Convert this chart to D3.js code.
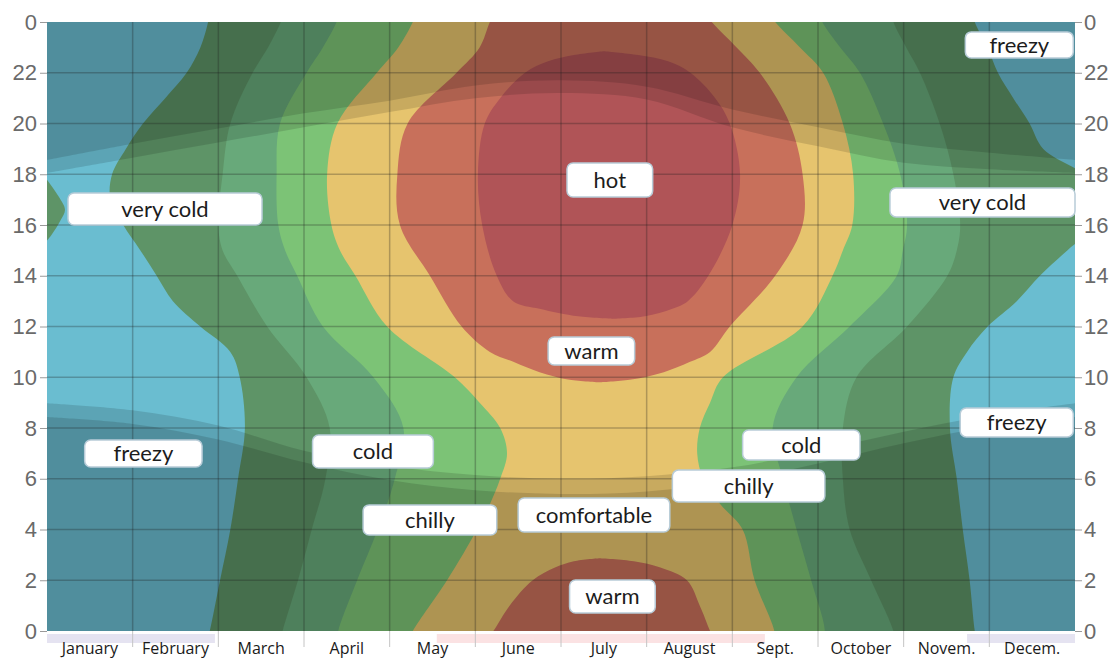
<!DOCTYPE html>
<html><head><meta charset="utf-8">
<script src="https://cdn.jsdelivr.net/npm/d3@7"></script>
<style>
html,body{margin:0;padding:0;background:#fff;}
svg{display:block;}
</style></head><body>
<svg id="chart" width="1113" height="660"></svg>
<script>
// ---------- data ----------
const months = ["January","February","March","April","May","June","July","August","Sept.","October","Novem.","Decem."];
const hourTicks = [0,2,4,6,8,10,12,14,16,18,20,22,24];
const categories = ["freezy","very cold","cold","chilly","comfortable","warm","hot"];

// band boundaries: [hour, left month-position, right month-position]
const veryColdBand = [[-0.5,1.86,10.86],[0,1.90,10.83],[2,2.02,10.77],[4,2.14,10.69],[6,2.23,10.62],[8,2.31,10.54],[10,2.25,10.58],[11,2.14,10.74],[12,1.79,10.98],[13,1.47,11.32],[14,1.28,11.59],[15,1.09,11.91],[16,0.89,12.25],[17,0.74,12.35],[18,0.76,12.1],[19,0.92,11.63],[20,1.12,11.47],[21,1.38,11.28],[22,1.63,11.10],[23,1.79,10.98],[24,1.88,10.83],[24.5,1.90,10.80]];
const veryColdTongue = [[15.2,-0.5,-0.05],[15.6,-0.5,0.05],[16.2,-0.5,0.16],[16.6,-0.5,0.21],[17.1,-0.5,0.14],[17.6,-0.5,0.04],[18.0,-0.5,-0.05]];
const coldBand = [[-0.5,2.72,9.9],[0,2.75,9.88],[2,2.93,9.62],[4,3.09,9.37],[6,3.25,9.29],[8,3.30,9.29],[10,3.03,9.45],[12,2.57,10.04],[14,2.22,10.51],[15,2.05,10.62],[16,2.00,10.66],[18,2.05,10.58],[20,2.14,10.42],[22,2.40,10.19],[23,2.58,10.03],[24,2.73,9.88],[24.5,2.78,9.85]];
const chillyBand = [[-0.5,3.38,9.05],[0,3.40,9.08],[2,3.62,8.92],[4,3.86,8.75],[6,4.06,8.59],[8,4.16,8.47],[10,3.81,8.75],[12,3.22,9.37],[14,2.92,9.92],[15,2.78,9.99],[16,2.70,10.04],[18,2.68,9.96],[20,2.72,9.76],[22,3.03,9.49],[23,3.22,9.26],[24,3.38,9.05],[24.5,3.42,9.0]];
const comfortableBand = [[-0.5,4.2,8.5],[0,4.27,8.49],[2,4.67,8.26],[4,5.02,8.12],[5,5.17,7.86],[6,5.29,7.66],[7,5.37,7.59],[8,5.29,7.62],[9,5.05,7.74],[10,4.76,7.89],[12,3.97,8.82],[14,3.60,9.17],[15,3.42,9.29],[16,3.32,9.40],[18,3.27,9.41],[20,3.39,9.29],[22,3.85,9.06],[23,4.10,8.79],[24,4.27,8.5],[24.5,4.32,8.4]];
const warmUpper = [[9.8,6.45,6.45],[9.9,6.1,6.8],[10.2,5.75,7.2],[10.6,5.45,7.5],[11,5.17,7.74],[12,4.84,7.97],[14,4.47,8.5],[16,4.12,8.82],[18,4.09,8.82],[20,4.21,8.67],[22,4.78,8.32],[23,5.05,8.05],[24,5.17,7.76],[24.5,5.25,7.65]];
const warmLower = [[-0.5,5.1,7.8],[0,5.21,7.74],[1,5.40,7.62],[2,5.67,7.47],[2.5,5.93,7.16],[2.75,6.15,6.85],[2.87,6.45,6.45]];
const hotBlob = [[12.3,6.6,6.6],[12.4,6.2,6.98],[12.7,5.75,7.3],[13,5.44,7.48],[14,5.25,7.72],[16,5.08,8.0],[18,5.03,8.09],[20,5.11,7.97],[21,5.29,7.80],[22,5.58,7.51],[22.45,5.85,7.25],[22.7,6.15,6.9],[22.85,6.5,6.5]];

// daylight boundaries sampled at month marks 0..12 (hours)
const monthMarks = [0,1,2,3,4,5,6,7,8,9,10,11,12];
const dawnNight    = [8.43,8.16,7.55,6.65,5.95,5.55,5.40,5.50,5.90,6.60,7.40,8.05,8.43];
const dawnTwilight = [8.98,8.70,8.10,7.10,6.50,6.15,6.00,6.10,6.45,7.10,7.85,8.50,8.98];
const duskTwilight = [18.05,18.65,19.25,19.85,20.45,21.0,21.2,20.95,19.85,19.1,18.45,18.2,18.05];
const duskNight    = [18.56,19.2,19.8,20.4,20.9,21.5,21.7,21.45,20.55,19.85,19.2,18.85,18.56];

// annotation labels: text and box extent in data units [m0,m1,h0,h1]
const labelTexts = ["freezy","very cold","very cold","hot","warm","freezy","cold","freezy","cold","chilly","chilly","comfortable","warm"];
const labelBoxes = [[10.72,11.98,22.58,23.61],[0.245,2.51,16.0,17.26],[9.84,12.0,16.32,17.46],[6.07,7.07,17.10,18.44],[5.85,6.86,10.48,11.59],[0.44,1.81,6.46,7.53],[3.10,4.51,6.42,7.72],[10.66,11.98,7.65,8.79],[8.12,9.49,6.74,7.92],[7.30,9.08,5.08,6.34],[3.69,5.25,3.78,4.97],[5.50,7.27,3.90,5.24],[6.10,7.10,0.71,2.01]];

// season strip under the axis: [from month, to month, kind]
const seasonStrip = [[0,1.96,"winter"],[4.55,8.38,"summer"],[10.74,12,"winter"]];

// ---------- styles ----------
const colors = {
  "freezy":"#6abdd0","very cold":"#5e9467","cold":"#68a97a","chilly":"#7cc376",
  "comfortable":"#e6c46e","warm":"#c8705b","hot":"#b05457"
};
const seasonColors = {winter:"#e5e3f1", summer:"#fbe2e3"};

// ---------- scales ----------
const x = d3.scaleLinear().domain([0,12]).range([47,1075]);
const y = d3.scaleLinear().domain([0,24]).range([631,22]);
const xBand = d3.scaleBand().domain(months).range([47,1075]);

const svg = d3.select("#chart");
svg.append("defs").append("clipPath").attr("id","plotClip").append("rect")
  .attr("x",x(0)).attr("y",y(24)).attr("width",x(12)-x(0)).attr("height",y(0)-y(24));

const plot = svg.append("g").attr("clip-path","url(#plotClip)");
plot.append("rect").attr("x",x(0)).attr("y",y(24)).attr("width",x(12)-x(0)).attr("height",y(0)-y(24))
  .attr("fill",colors["freezy"]);

const bandArea = d3.area()
  .y(d=>y(d[0])).x0(d=>x(d[1])).x1(d=>x(d[2]))
  .curve(d3.curveCatmullRom.alpha(0.5));

const layers = [
  [veryColdBand,"very cold"],[veryColdTongue,"very cold"],[coldBand,"cold"],[chillyBand,"chilly"],
  [comfortableBand,"comfortable"],[warmUpper,"warm"],[warmLower,"warm"],[hotBlob,"hot"]
];
plot.selectAll("path.band").data(layers).join("path").attr("class","band")
  .attr("d",d=>bandArea(d[0])).attr("fill",d=>colors[d[1]]);

// night / twilight overlays
const morning = vals => d3.area().x((d,i)=>x(monthMarks[i])).y0(y(0)).y1((d,i)=>y(vals[i])).curve(d3.curveCatmullRom.alpha(0.5))(vals);
const evening = vals => d3.area().x((d,i)=>x(monthMarks[i])).y0(y(24)).y1((d,i)=>y(vals[i])).curve(d3.curveCatmullRom.alpha(0.5))(vals);
const ov = plot.append("g").attr("fill","#000").attr("fill-opacity",0.13);
ov.append("path").attr("d",morning(dawnNight));
ov.append("path").attr("d",morning(dawnTwilight));
ov.append("path").attr("d",evening(duskNight));
ov.append("path").attr("d",evening(duskTwilight));

// grid
const grid = plot.append("g").attr("stroke","#1e1e1e").attr("stroke-opacity",0.28).attr("stroke-width",1.5);
grid.selectAll("line.v").data(d3.range(1,12)).join("line").attr("class","v")
  .attr("x1",d=>x(d)).attr("x2",d=>x(d)).attr("y1",y(24)).attr("y2",y(0));
grid.selectAll("line.h").data(hourTicks.slice(1,-1)).join("line").attr("class","h")
  .attr("y1",d=>y(d)).attr("y2",d=>y(d)).attr("x1",x(0)).attr("x2",x(12));

// season strip & month separators below plot
svg.append("g").selectAll("rect").data(seasonStrip).join("rect")
  .attr("x",d=>x(d[0])).attr("width",d=>x(d[1])-x(d[0])).attr("y",634).attr("height",9)
  .attr("fill",d=>seasonColors[d[2]]);
svg.append("g").attr("stroke","#c4c4c4").attr("stroke-width",1)
  .selectAll("line").data(d3.range(1,12)).join("line")
  .attr("x1",d=>x(d)).attr("x2",d=>x(d)).attr("y1",631).attr("y2",647);

// axes
const fmt = d=>String(d%24);
const yl = svg.append("g").attr("transform",`translate(${x(0)},0)`)
  .call(d3.axisLeft(y).tickValues(hourTicks).tickFormat(fmt).tickSize(7).tickPadding(3));
const yr = svg.append("g").attr("transform",`translate(${x(12)},0)`)
  .call(d3.axisRight(y).tickValues(hourTicks).tickFormat(fmt).tickSize(7).tickPadding(2));
[yl,yr].forEach(g=>{
  g.select(".domain").remove();
  g.selectAll(".tick line").attr("stroke","#9a9a9a");
  g.selectAll(".tick text").attr("fill","#6a6a6a").style("font-family","'Liberation Sans', Arial, sans-serif").style("font-size","22px");
});
const xa = svg.append("g").attr("transform",`translate(0,${y(0)})`)
  .call(d3.axisBottom(xBand).tickSize(0).tickPadding(12));
xa.select(".domain").remove();
xa.selectAll(".tick text").attr("fill","#1a1a1a").style("font-family","'Open Sans', sans-serif").style("font-size","16px");

// annotation boxes
const ann = svg.append("g");
const items = labelTexts.map((t,i)=>({t, b:labelBoxes[i]}));
const g = ann.selectAll("g").data(items).join("g");
g.append("rect")
  .attr("x",d=>x(d.b[0])).attr("y",d=>y(d.b[3]))
  .attr("width",d=>x(d.b[1])-x(d.b[0])).attr("height",d=>y(d.b[2])-y(d.b[3]))
  .attr("rx",6).attr("fill","#fff").attr("stroke","#b8ccd8").attr("stroke-width",1.5);
g.append("text")
  .attr("x",d=>(x(d.b[0])+x(d.b[1]))/2).attr("y",d=>(y(d.b[2])+y(d.b[3]))/2)
  .attr("dy","0.35em").attr("text-anchor","middle")
  .style("font-family","Lato, 'Open Sans', sans-serif").style("font-size","22px").attr("fill","#1c1c1c")
  .text(d=>d.t);
</script>
</body></html>
